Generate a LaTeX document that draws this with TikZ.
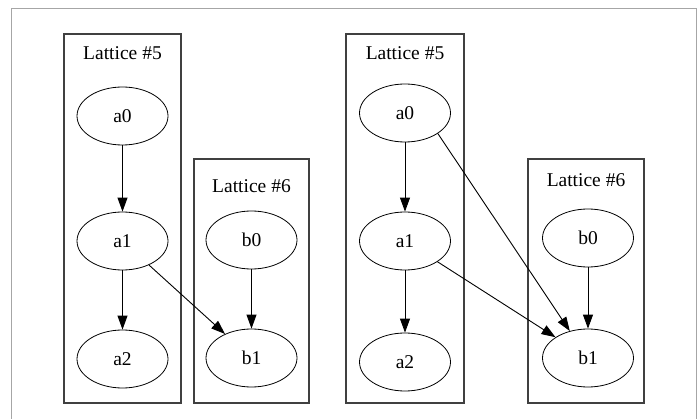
\documentclass[tikz,border=0pt]{standalone}
\usepackage{fontspec}
\setmainfont{Liberation Serif}
\usetikzlibrary{arrows.meta,shapes.geometric}
\tikzset{
  frameline/.style={draw=black!35, line width=1pt},
  cluster/.style={draw=black!75, line width=1.1pt},
  vnode/.style={draw, ellipse, line width=0.8pt, minimum width=91pt, minimum height=58pt, inner sep=0pt, font=\fontsize{19.5}{22}\selectfont},
  ctitle/.style={font=\fontsize{19.5}{22}\selectfont, inner sep=0pt},
  edge/.style={draw, line width=0.9pt, -{Triangle[length=14pt,width=10pt]}, shorten >=0pt}
}
\begin{document}
\begin{tikzpicture}[x=1pt,y=-1pt]
\useasboundingbox (0,0) rectangle (697,419);
\fill[white] (0,0) rectangle (697,419);
\draw[frameline] (11,425) -- (11,8.5) -- (696,8.5) -- (696,425);
% left group
\draw[cluster] (64,34) rectangle (181,403);
\node[ctitle] (t5l) at (122.5,53) {Lattice \#5};
\draw[cluster] (194,159) rectangle (309,403);
\node[ctitle] (t6l) at (251.5,186) {Lattice \#6};
\node[vnode] (la0) at (122.5,116) {a0};
\node[vnode] (la1) at (122.5,241) {a1};
\node[vnode] (la2) at (122.5,359) {a2};
\node[vnode] (lb0) at (251.5,240) {b0};
\node[vnode] (lb1) at (251.5,358) {b1};
\draw[edge] (la0) -- (la1);
\draw[edge] (la1) -- (la2);
\draw[edge] (lb0) -- (lb1);
\draw[edge] (la1) -- (lb1);
% right group
\draw[cluster] (346,34) rectangle (464,403);
\node[ctitle] (t5r) at (405,53) {Lattice \#5};
\draw[cluster] (528,159) rectangle (644,403);
\node[ctitle] (t6r) at (586,180) {Lattice \#6};
\node[vnode] (ra0) at (405,113) {a0};
\node[vnode] (ra1) at (405,241) {a1};
\node[vnode] (ra2) at (405,362) {a2};
\node[vnode] (rb0) at (588,238) {b0};
\node[vnode] (rb1) at (588,358) {b1};
\draw[edge] (ra0) -- (ra1);
\draw[edge] (ra1) -- (ra2);
\draw[edge] (rb0) -- (rb1);
\draw[edge] (ra1) -- (rb1);
\draw[edge] (ra0.-32) -- (rb1.124);
\end{tikzpicture}
\end{document}
